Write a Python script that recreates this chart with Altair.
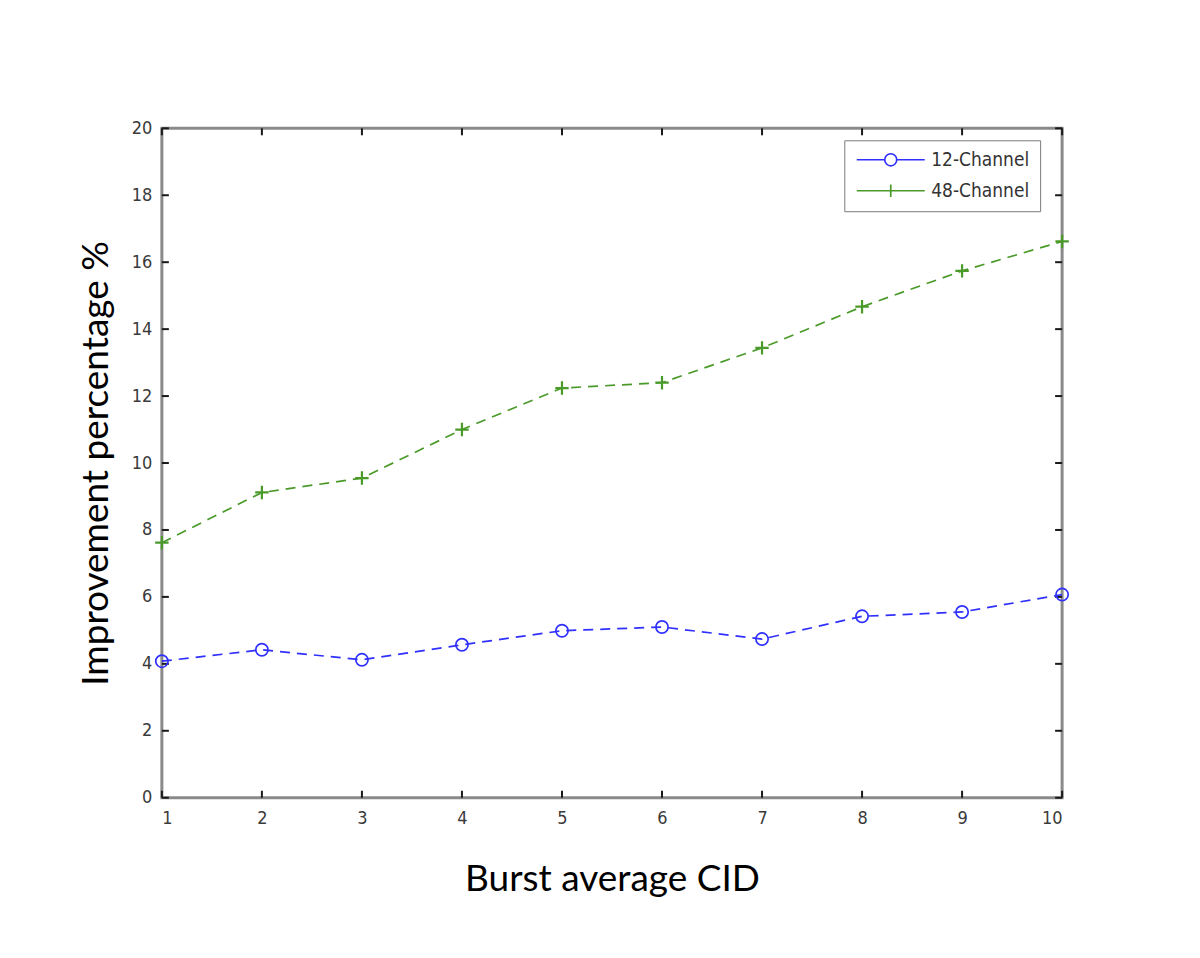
import altair as alt
import pandas as pd

# ---- data ----
cid = [1, 2, 3, 4, 5, 6, 7, 8, 9, 10]
ch12 = [4.08, 4.42, 4.12, 4.57, 4.99, 5.10, 4.74, 5.42, 5.55, 6.07]
ch48 = [7.62, 9.12, 9.55, 11.00, 12.24, 12.40, 13.44, 14.67, 15.74, 16.62]
series_names = ["12-Channel", "48-Channel"]
series_colors = ["#3030ff", "#4a9a2a"]
y_ticks = [0, 2, 4, 6, 8, 10, 12, 14, 16, 18, 20]
x_ticks = cid

rows = []
for x, v in zip(cid, ch12):
    rows.append({"cid": x, "value": v, "series": series_names[0]})
for x, v in zip(cid, ch48):
    rows.append({"cid": x, "value": v, "series": series_names[1]})
df = pd.DataFrame(rows)
ydf = pd.DataFrame({"t": y_ticks})
xdf = pd.DataFrame({"t": x_ticks})

W, H = 901, 670
TICK_FONT = "'Liberation Sans Narrow', 'DejaVu Sans Condensed', 'Liberation Sans', sans-serif"
TITLE_FONT = "Lato"

xscale = alt.Scale(domain=[1, 10], nice=False, zero=False)
yscale = alt.Scale(domain=[0, 20], nice=False)
cscale = alt.Scale(domain=series_names, range=series_colors)

CIRCLE_LEG = ("M-4.86,0L-0.86,0M0.86,0L4.86,0"
              "M-0.86,0A0.86,0.86 0 1,0 0.86,0A0.86,0.86 0 1,0 -0.86,0")
PLUS_LEG = "M-4.86,0L4.86,0M0,-0.9L0,0.9"
PLUS = "M-1,0L1,0M0,-1L0,1"

x_enc = alt.X("cid:Q", scale=xscale,
              axis=alt.Axis(values=x_ticks, title="Burst average CID", format="d",
                            grid=False, domain=False, ticks=False,
                            labelFont=TICK_FONT, labelFontSize=18, labelColor="#3a3a3a",
                            labelPadding=12, titleFont=TITLE_FONT, titleFontSize=37,
                            titleFontWeight="normal", titleColor="#000000",
                            titlePadding=34))
y_enc = alt.Y("value:Q", scale=yscale,
              axis=alt.Axis(values=y_ticks, title="Improvement percentage %",
                            grid=False, domain=False, ticks=False,
                            labelFont=TICK_FONT, labelFontSize=18, labelColor="#3a3a3a",
                            labelPadding=10, titleFont=TITLE_FONT, titleFontSize=37,
                            titleFontWeight="normal", titleColor="#000000",
                            titlePadding=16))

base = alt.Chart(df)

lines = base.mark_line(strokeWidth=1.7, strokeDash=[10, 7]).encode(
    x=x_enc, y=y_enc,
    color=alt.Color("series:N", scale=cscale, legend=None),
    detail="series:N",
)

circles = base.transform_filter(alt.datum.series == series_names[0]).mark_point(
    shape="circle", size=150, filled=False, strokeWidth=1.7, opacity=1
).encode(x="cid:Q", y="value:Q", color=alt.Color("series:N", scale=cscale, legend=None))

pluses = base.transform_filter(alt.datum.series == series_names[1]).mark_point(
    shape=PLUS, size=180, filled=False, strokeWidth=2.2, opacity=1
).encode(x="cid:Q", y="value:Q", color=alt.Color("series:N", scale=cscale, legend=None))

leg_props = dict(title=None, orient="none", legendX=683, legendY=12,
                 symbolSize=196, symbolStrokeWidth=1.7,
                 symbolOffset=27, labelOffset=31,
                 symbolStrokeColor=alt.ExprRef(expr="scale('color', datum.value)"),
                 symbolFillColor="transparent",
                 labelFont=TICK_FONT, labelFontSize=19,
                 labelColor="#333333", rowPadding=10,
                 padding=10, fillColor="#ffffff",
                 strokeColor="#7a7a7a", cornerRadius=0)

legend_layer = base.transform_filter("false").mark_point(
    filled=False, strokeWidth=1.7, opacity=1
).encode(
    x="cid:Q", y="value:Q",
    color=alt.Color("series:N", scale=cscale, legend=None),
    shape=alt.Shape("series:N", scale=alt.Scale(domain=series_names,
                                                range=[CIRCLE_LEG, PLUS_LEG]),
                    legend=alt.Legend(**leg_props)),
)

# inward tick marks on all four sides
tk = dict(color="#1a1a1a", strokeWidth=2)
yt_left = alt.Chart(ydf).mark_rule(**tk).encode(
    y=alt.Y("t:Q", scale=yscale), x=alt.value(0), x2=alt.value(7))
yt_right = alt.Chart(ydf).mark_rule(**tk).encode(
    y=alt.Y("t:Q", scale=yscale), x=alt.value(W - 7), x2=alt.value(W))
xt_bottom = alt.Chart(xdf).mark_rule(**tk).encode(
    x=alt.X("t:Q", scale=xscale), y=alt.value(H - 7), y2=alt.value(H))
xt_top = alt.Chart(xdf).mark_rule(**tk).encode(
    x=alt.X("t:Q", scale=xscale), y=alt.value(0), y2=alt.value(7))

chart = alt.layer(
    yt_left, yt_right, xt_bottom, xt_top, lines, circles, pluses, legend_layer
).resolve_scale(shape="independent").properties(
    width=W, height=H,
    background="#ffffff",
    autosize=alt.AutoSizeParams(type="none"),
    padding={"left": 154, "top": 120, "right": 130, "bottom": 150},
).configure_view(
    stroke="#8a8a8a", strokeWidth=3
)

chart.save("out.html", embed_options={"renderer": "svg", "actions": False})
